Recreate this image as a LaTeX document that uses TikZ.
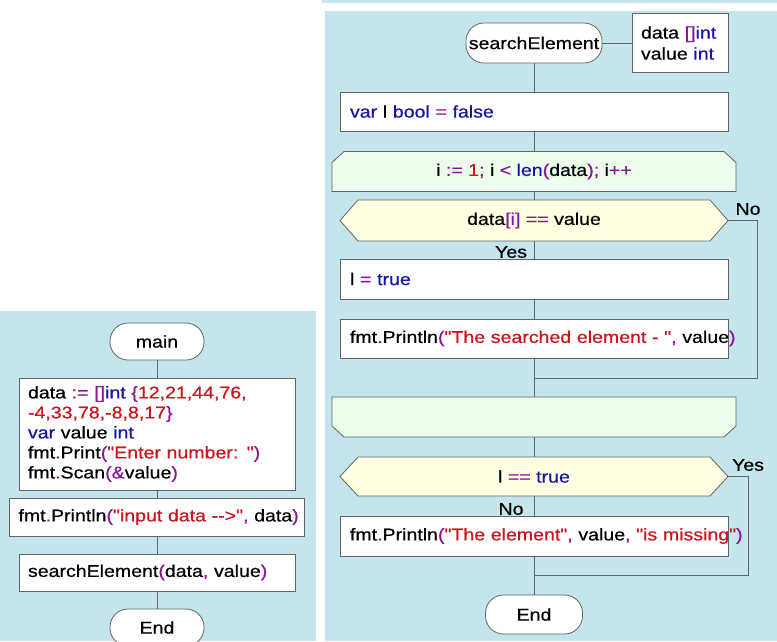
\documentclass[tikz,border=0pt]{standalone}
\usepackage{fontspec}
\setmainfont{Liberation Sans}[Ligatures=TeXOff, FakeStretch=1.15, RawFeature={embolden=0.6}]
\usepackage{xcolor}
\usepackage{tikz}
\usetikzlibrary{arrows, positioning}

\definecolor{panelblue}{RGB}{196,229,236}
\definecolor{loopgreen}{RGB}{236,253,236}
\definecolor{ifyellow}{RGB}{255,255,226}
\definecolor{linegray}{RGB}{100,100,100}
\definecolor{kwblue}{RGB}{20,20,165}
\definecolor{opviolet}{RGB}{140,20,150}
\definecolor{litred}{RGB}{205,20,30}

\newcommand{\kw}[1]{\textcolor{kwblue}{#1}}
\newcommand{\opr}[1]{\textcolor{opviolet}{#1}}
\newcommand{\lit}[1]{\textcolor{litred}{#1}}

\pgfdeclarelayer{panels}
\pgfdeclarelayer{shapes}
\pgfsetlayers{panels,shapes,main}

\begin{document}
\begin{tikzpicture}[x=1pt, y=-1pt]
            \tikzset{
                every node/.style={font=\fontsize{17}{20}\selectfont, outer sep=0pt},
                term/.style={draw=linegray, fill=white, line width=0.8pt, shape=rectangle, rounded corners=18pt, minimum height=38pt, minimum width=#1, inner xsep=2pt},
                proc/.style={draw=linegray, fill=white, line width=0.8pt, shape=rectangle, text width=#1, align=left, inner xsep=9pt, minimum height=39pt},
                hexa/.style={shape=rectangle, minimum width=388pt, minimum height=41pt},
                loopbox/.style={shape=rectangle, minimum width=404pt, minimum height=40pt},
                ifshape/.style={draw=linegray, fill=ifyellow, line width=0.8pt},
                loopshape/.style={draw=linegray, fill=loopgreen, line width=0.8pt},
                flow/.style={draw=linegray, line width=1pt}
            }
            \clip (0,0) rectangle (777,641);
            % main
            \node[term=94pt, minimum height=37pt] (main) at (157,341.5) {main};
            \node[proc=258pt, minimum height=112pt] (init) at (157,434) {data \opr{:=} \opr{[]}\kw{int} \opr{\{}\lit{12,21,44,76,}\\
                \lit{-4,33,78,-8,8,17}\opr{\}}\\
                \kw{var} value \kw{int}\\
                fmt\opr{.}Print\opr{(}\lit{"Enter number: "}\opr{)}\\
                fmt\opr{.}Scan\opr{(\&}value\opr{)}};
            \node[proc=277pt, minimum height=38pt] (show) at (157,517) {\mbox{fmt\opr{.}Println\opr{(}\lit{"input data -->"}\opr{,} data\opr{)}}};
            \node[proc=258pt, minimum height=37pt] (call) at (157,572.5) {\mbox{searchElement\opr{(}data\opr{,} value\opr{)}}};
            \node[term=94pt, minimum height=37pt] (mainend) at (157,627.5) {End};
            % searchElement
            \node[term=136pt, minimum height=40pt] (search) at (534,43) {searchElement};
            \node[proc=78pt, minimum height=59pt] (params) at (680,43) {data \opr{[]}\kw{int}\\[1pt]value \kw{int}};
            \node[proc=368pt, inner xsep=10pt] (setl) at (534,111.5) {\mbox{\kw{var} l \kw{bool} \opr{=} \kw{false}}};
            \node[loopbox] (loopbeg) at (534,171.5) {i \opr{:=} \lit{1}\opr{;} i \opr{<} \kw{len}\opr{(}data\opr{);} i\opr{++}};
            \node[hexa] (check) at (534,220.5) {data\opr{[i]} \opr{==} value};
            \node (no1) at (748,209) {No};
            \node (yes1) at (511,252) {Yes};
            \node[proc=368pt, inner xsep=10pt, minimum height=40pt] (found) at (534,279) {\mbox{l \opr{=} \kw{true}}};
            \node[proc=368pt, inner xsep=10pt] (print1) at (534,338.5) {\mbox{fmt\opr{.}Println\opr{(}\lit{"The searched element - "}\opr{,} value\opr{)}}};
            \coordinate (join1) at (534,378);
            \node[loopbox] (loopend) at (534,417) {};
            \node[hexa, minimum height=39pt] (test) at (534,476.5) {l \opr{==} \kw{true}};
            \node (yes2) at (748,465) {Yes};
            \node (no2) at (511,509) {No};
            \node[proc=368pt, inner xsep=10pt, minimum height=40pt] (missing) at (534,536) {\mbox{fmt\opr{.}Println\opr{(}\lit{"The element"}\opr{,} value\opr{,} \lit{"is missing"}\opr{)}}};
            \coordinate (join2) at (534,575);
            \node[term=97pt, minimum height=39pt] (searchend) at (534,614.5) {End};

            \begin{pgfonlayer}{panels}
                \fill[panelblue] (0,311) rectangle (316,641);
                \fill[panelblue] (325,11) rectangle (777,641);
                \fill[panelblue] (322,0) rectangle (777,2.5);
            \end{pgfonlayer}
            \begin{pgfonlayer}{shapes}
                \draw[loopshape] ([yshift=-11pt]loopbeg.north west) -- ([xshift=12pt]loopbeg.north west) -- ([xshift=-12pt]loopbeg.north east) -- ([yshift=-11pt]loopbeg.north east) -- (loopbeg.south east) -- (loopbeg.south west) -- cycle;
                \draw[loopshape] (loopend.north west) -- (loopend.north east) -- ([yshift=11pt]loopend.south east) -- ([xshift=-12pt]loopend.south east) -- ([xshift=12pt]loopend.south west) -- ([yshift=11pt]loopend.south west) -- cycle;
                \foreach \d in {check,test}
                    \draw[ifshape] (\d.west) -- ([xshift=18pt]\d.north west) -- ([xshift=-18pt]\d.north east) -- (\d.east) -- ([xshift=-18pt]\d.south east) -- ([xshift=18pt]\d.south west) -- cycle;
            \end{pgfonlayer}

            \path (main) edge[flow] (init);
            \path (init) edge[flow] (show);
            \path (show) edge[flow] (call);
            \path (call) edge[flow] (mainend);
            \path (search) edge[flow] (params);
            \path (search) edge[flow] (setl);
            \path (setl) edge[flow] (loopbeg);
            \path (loopbeg) edge[flow] (check);
            \path (check) edge[flow] (found);
            \path (found) edge[flow] (print1);
            \path (print1) edge[flow] (loopend);
            \path (loopend) edge[flow] (test);
            \path (test) edge[flow] (missing);
            \path (missing) edge[flow] (searchend);
            \draw[flow] (check.east) -- ++(29,0) |- (join1);
            \draw[flow] (test.east) -- ++(20,0) |- (join2);
        \end{tikzpicture}
\end{document}
